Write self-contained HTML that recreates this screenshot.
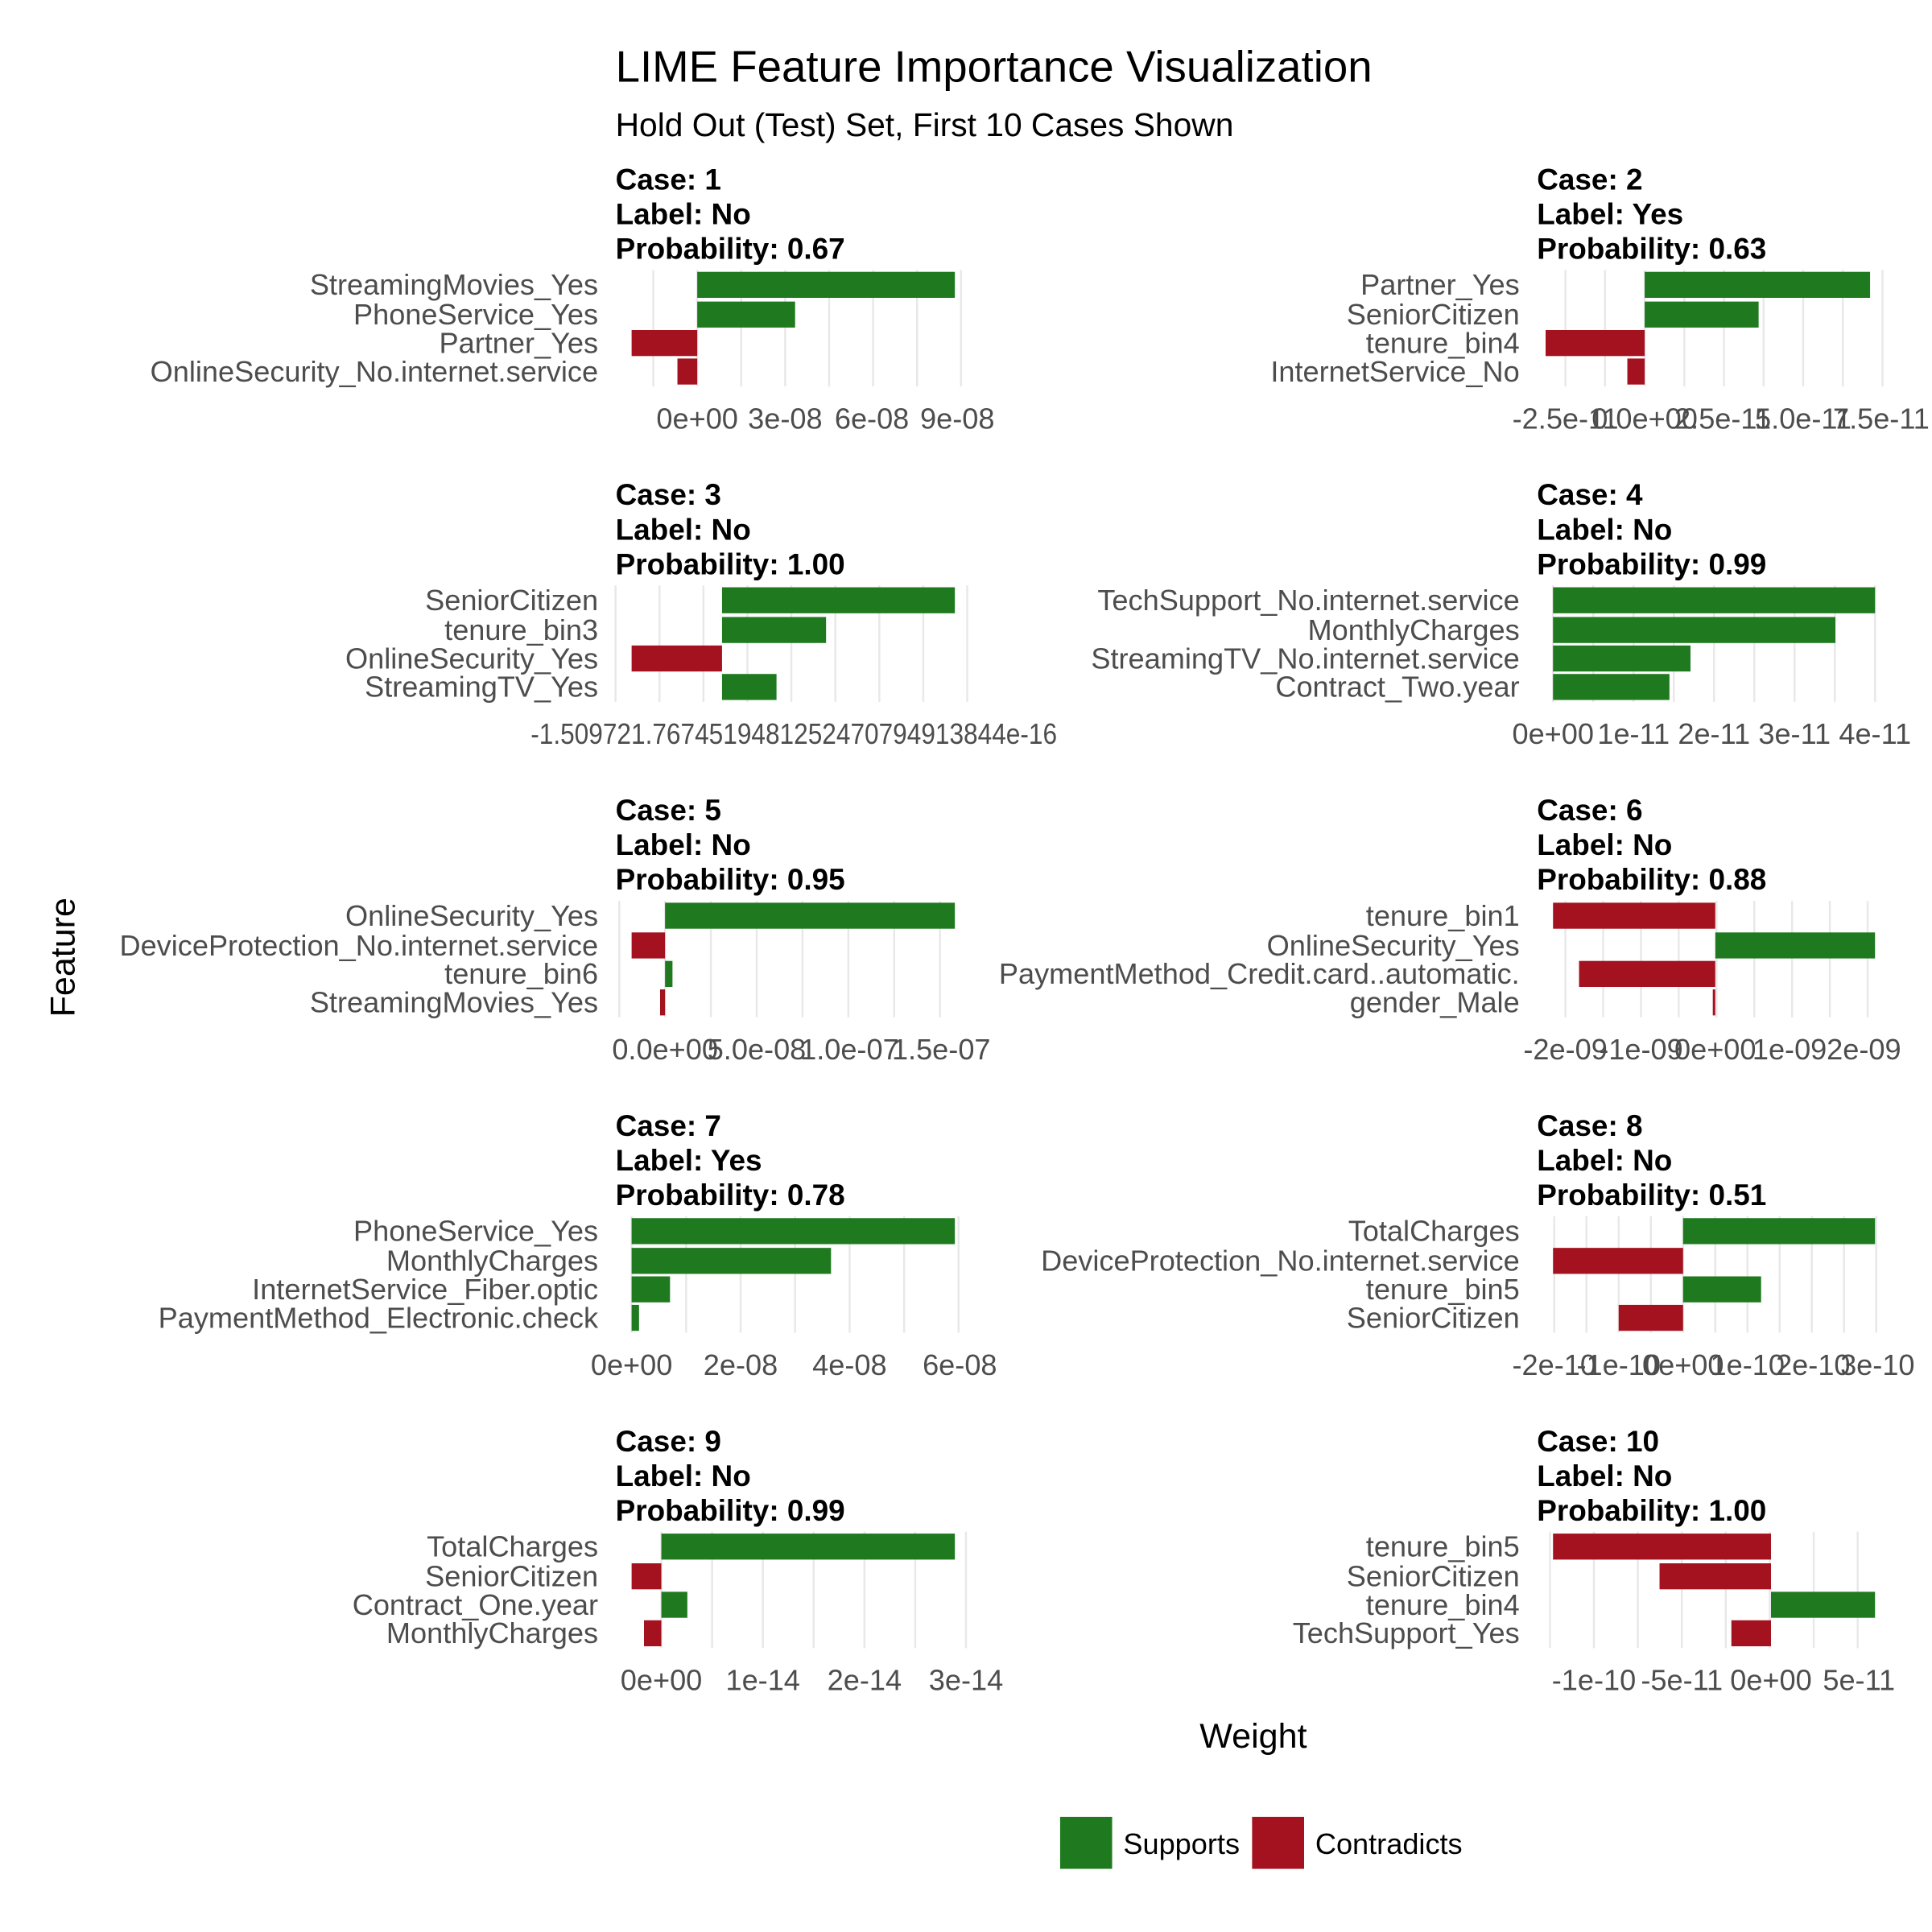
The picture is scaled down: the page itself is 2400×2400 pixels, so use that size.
<!DOCTYPE html>
<html><head><meta charset="utf-8"><style>
html,body{margin:0;padding:0;background:#fff}
svg{display:block}
text{font-family:"Liberation Sans",Arial,sans-serif}
</style></head><body>
<svg id="s" width="2400" height="2400" viewBox="0 0 1560 1560" xmlns="http://www.w3.org/2000/svg">
<rect width="1560" height="1560" fill="#fff"/>
<text x="497" y="66" font-size="35.5" fill="#000">LIME Feature Importance Visualization</text>
<text x="497" y="110" font-size="26.5" fill="#000">Hold Out (Test) Set, First 10 Cases Shown</text>
<text transform="translate(60,773) rotate(-90)" font-size="28" text-anchor="middle" fill="#000">Feature</text>
<text x="1012" y="1411" font-size="28" text-anchor="middle" fill="#000">Weight</text>
<rect x="856" y="1467" width="42" height="42" fill="#1f7a1f"/>
<text x="907" y="1497" font-size="23.5" fill="#000">Supports</text>
<rect x="1011" y="1467" width="42" height="42" fill="#a3121e"/>
<text x="1062" y="1497" font-size="23.5" fill="#000">Contradicts</text>
<g id="p"></g>
</svg>
<script>
var G="#1f7a1f",R="#a3121e";
var cases=[
{c:1,l:"No",p:"0.67",col:0,row:0,f:["StreamingMovies_Yes","PhoneService_Yes","Partner_Yes","OnlineSecurity_No.internet.service"],
 b:[[563,771,G],[563,642,G],[510,563,R],[547,563,R]],t:[[563,"0e+00"],[634,"3e-08"],[704,"6e-08"],[773,"9e-08"]]},
{c:2,l:"Yes",p:"0.63",col:1,row:0,f:["Partner_Yes","SeniorCitizen","tenure_bin4","InternetService_No"],
 b:[[1328,1510,G],[1328,1420,G],[1248,1328,R],[1314,1328,R]],t:[[1264,"-2.5e-11"],[1328,"0.0e+00"],[1391,"2.5e-11"],[1456,"5.0e-11"],[1519,"7.5e-11"]]},
{c:3,l:"No",p:"1.00",col:0,row:1,f:["SeniorCitizen","tenure_bin3","OnlineSecurity_Yes","StreamingTV_Yes"],
 b:[[583,771,G],[583,667,G],[510,583,R],[583,627,G]],t:[[497,""],[568,""],[641,""],[712,""],[784,""]],mess:"-1.509721.7674519481252470794913844e-16"},
{c:4,l:"No",p:"0.99",col:1,row:1,f:["TechSupport_No.internet.service","MonthlyCharges","StreamingTV_No.internet.service","Contract_Two.year"],
 b:[[1254,1514,G],[1254,1482,G],[1254,1365,G],[1254,1348,G]],t:[[1254,"0e+00"],[1319,"1e-11"],[1384,"2e-11"],[1449,"3e-11"],[1514,"4e-11"]]},
{c:5,l:"No",p:"0.95",col:0,row:2,f:["OnlineSecurity_Yes","DeviceProtection_No.internet.service","tenure_bin6","StreamingMovies_Yes"],
 b:[[537,771,G],[510,537,R],[537,543,G],[533,537,R]],t:[[537,"0.0e+00"],[611,"5.0e-08"],[686,"1.0e-07"],[760,"1.5e-07"]]},
{c:6,l:"No",p:"0.88",col:1,row:2,f:["tenure_bin1","OnlineSecurity_Yes","PaymentMethod_Credit.card..automatic.","gender_Male"],
 b:[[1254,1385,R],[1385,1514,G],[1275,1385,R],[1383,1385,R]],t:[[1264,"-2e-09"],[1325,"-1e-09"],[1385,"0e+00"],[1445,"1e-09"],[1505,"2e-09"]]},
{c:7,l:"Yes",p:"0.78",col:0,row:3,f:["PhoneService_Yes","MonthlyCharges","InternetService_Fiber.optic","PaymentMethod_Electronic.check"],
 b:[[510,771,G],[510,671,G],[510,541,G],[510,516,G]],t:[[510,"0e+00"],[598,"2e-08"],[686,"4e-08"],[775,"6e-08"]]},
{c:8,l:"No",p:"0.51",col:1,row:3,f:["TotalCharges","DeviceProtection_No.internet.service","tenure_bin5","SeniorCitizen"],
 b:[[1359,1514,G],[1254,1359,R],[1359,1422,G],[1307,1359,R]],t:[[1255,"-2e-10"],[1307,"-1e-10"],[1359,"0e+00"],[1411,"1e-10"],[1464,"2e-10"],[1516,"3e-10"]]},
{c:9,l:"No",p:"0.99",col:0,row:4,f:["TotalCharges","SeniorCitizen","Contract_One.year","MonthlyCharges"],
 b:[[534,771,G],[510,534,R],[534,555,G],[520,534,R]],t:[[534,"0e+00"],[616,"1e-14"],[698,"2e-14"],[780,"3e-14"]]},
{c:10,l:"No",p:"1.00",col:1,row:4,f:["tenure_bin5","SeniorCitizen","tenure_bin4","TechSupport_Yes"],
 b:[[1254,1430,R],[1340,1430,R],[1430,1514,G],[1398,1430,R]],t:[[1287,"-1e-10"],[1358,"-5e-11"],[1430,"0e+00"],[1501,"5e-11"]]}
];
var h="";
cases.forEach(function(k){
 var oy=k.row*254.7, x0=k.col?1241:497, x1=k.col?1530:785, lx=k.col?1227:483;
 var gy0=218+oy, gy1=312+oy;
 h+='<text x="'+x0+'" y="'+(153+oy)+'" font-size="24" font-weight="bold">Case: '+k.c+'</text>';
 h+='<text x="'+x0+'" y="'+(181+oy)+'" font-size="24" font-weight="bold">Label: '+k.l+'</text>';
 h+='<text x="'+x0+'" y="'+(209+oy)+'" font-size="24" font-weight="bold">Probability: '+k.p+'</text>';
 var t=k.t, st=t[1][0]-t[0][0], xs=[];
 for(var x=t[0][0]-st/2;x>=x0-2;x-=st/2)xs.push(x);
 for(var x=t[0][0];x<=x1+2;x+=st/2)xs.push(x);
 xs.forEach(function(x){h+='<line x1="'+x+'" x2="'+x+'" y1="'+gy0+'" y2="'+gy1+'" stroke="#e8e8e8" stroke-width="1.6"/>';});
 var cy=[230,254,277,300];
 k.b.forEach(function(b,i){
  var y=cy[i]+oy;
  h+='<rect x="'+b[0]+'" y="'+(y-10.5)+'" width="'+Math.max(1,b[1]-b[0])+'" height="21" fill="'+b[2]+'"/>';
  h+='<text x="'+lx+'" y="'+(y+8)+'" font-size="23.5" text-anchor="end" fill="#4d4d4d">'+k.f[i]+'</text>';
 });
 t.forEach(function(a){ if(a[1]) h+='<text x="'+a[0]+'" y="'+(346+oy)+'" font-size="23.5" text-anchor="middle" fill="#4d4d4d">'+a[1]+'</text>';});
 if(k.mess) h+='<text x="641" y="'+(346+oy)+'" font-size="23.5" text-anchor="middle" fill="#4d4d4d" textLength="425" lengthAdjust="spacingAndGlyphs">'+k.mess+'</text>';
});
document.getElementById("p").innerHTML=h;
</script>
</body></html>
